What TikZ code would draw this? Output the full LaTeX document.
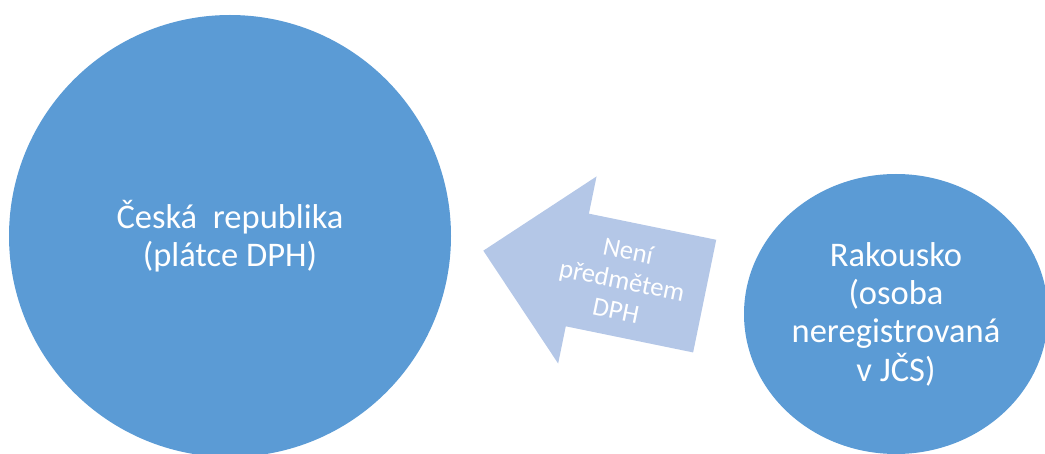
\documentclass[tikz,border=0pt]{standalone}
\usepackage{fontspec}
\setmainfont{Carlito}
\usepackage{xcolor}
\usepackage{tikz}
\usetikzlibrary{shapes.geometric,positioning}

\definecolor{circblue}{HTML}{5B9BD5}
\definecolor{arrblue}{HTML}{B4C7E7}

\tikzset{
  land/.style={fill=circblue, draw=none, text=white, align=center,
    font=\fontsize{34.5}{38.3}\selectfont, inner sep=0pt},
  flowtext/.style={text=white, align=center, font=\fontsize{26.5}{30.5}\selectfont,
    inner sep=0pt, transform shape}
}

\begin{document}
\begin{tikzpicture}[x=1pt, y=1pt]
\useasboundingbox (0,0) rectangle (1045,453);
\clip (0,0) rectangle (1045,453);

% Czech Republic
\node[land, circle, minimum size=442] (cz) at (230,217) {Česká\ \ republika\\(plátce DPH)};

% Austria
\node[land, ellipse, minimum width=304, minimum height=280] (at) at (896,139)
  {Rakousko\\(osoba\\neregistrovaná\\v JČS)};

% Arrow between them
\begin{scope}[shift={(594,179.6)}, rotate=-11.6]
  \fill[arrblue] (-113,0) -- (-17,95.5) -- (-17,57.5) -- (113,57.5)
    -- (113,-57.5) -- (-17,-57.5) -- (-17,-95.5) -- cycle;
  \node[flowtext] (flow) at (29,-1) {Není\\předmětem\\DPH};
\end{scope}

\end{tikzpicture}
\end{document}
